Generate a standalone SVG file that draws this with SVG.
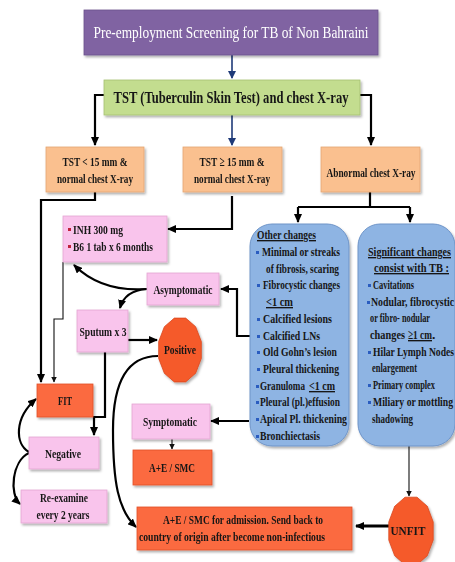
<svg xmlns="http://www.w3.org/2000/svg" width="455" height="562" viewBox="0 0 455 562">
  <style>
    text { font-family: "Liberation Serif", "Times New Roman", serif; fill: #161616; }
    .lbl { font-size: 13.5px; font-weight: bold; text-anchor: middle; }
    .lst { font-size: 13.5px; font-weight: bold; }
    .u { text-decoration: underline; }
    .pink { fill: #f9c4ec; stroke: #e3a6d2; stroke-width: 0.8; }
    .peach { fill: #fac08f; stroke: #e3a673; stroke-width: 0.8; }
    .red { fill: #fb6a40; stroke: #e0502a; stroke-width: 0.8; }
    .blue { fill: #8eb4e3; stroke: #6e94c8; stroke-width: 1; }
    .w { stroke: #000; stroke-width: 2.2; fill: none; }
    .thin { stroke: #111; stroke-width: 1.1; fill: none; }
    .navy { stroke: #1f3a78; stroke-width: 1.6; fill: none; }
    .bb { fill: #2a5cc0; }
    .br { fill: #c0243a; }
  </style>
  <defs>
    <filter id="sh" x="-10%" y="-10%" width="130%" height="130%">
      <feDropShadow dx="1.5" dy="2" stdDeviation="1.2" flood-color="#000" flood-opacity="0.3"/>
    </filter>
    <marker id="ah" markerWidth="9" markerHeight="8" refX="8" refY="4" orient="auto" markerUnits="userSpaceOnUse">
      <path d="M0,0 L9,4 L0,8 z" fill="#000"/>
    </marker>
    <marker id="ahs" markerWidth="6" markerHeight="6" refX="5.5" refY="3" orient="auto" markerUnits="userSpaceOnUse">
      <path d="M0,0 L6,3 L0,6 z" fill="#111"/>
    </marker>
    <marker id="ahn" markerWidth="8" markerHeight="8" refX="7" refY="4" orient="auto" markerUnits="userSpaceOnUse">
      <path d="M0,0 L8,4 L0,8 z" fill="#1f3a78"/>
    </marker>
  </defs>

  <!-- connectors -->
  <g id="connectors">
    <path class="navy" d="M232,55 V78" marker-end="url(#ahn)"/>
    <path class="navy" d="M232,115 V145" marker-end="url(#ahn)"/>
    <path class="w" d="M104,95 H95 V145" marker-end="url(#ah)"/>
    <path class="w" d="M360,95 H371 V145" marker-end="url(#ah)"/>
    <path class="w" d="M370,192 V207"/>
    <path class="w" d="M298,207 H410"/>
    <path class="w" d="M298,207 V222" marker-end="url(#ah)"/>
    <path class="w" d="M410,207 V222" marker-end="url(#ah)"/>
    <path class="w" d="M232,196 V229 H168" marker-end="url(#ah)"/>
    <path class="w" d="M95,192 V200 H41 V382" marker-end="url(#ah)"/>
    <path class="thin" d="M63,262 V319 H54 V382" marker-end="url(#ahs)"/>
    <path class="w" d="M250,336 H237 V289 H221" marker-end="url(#ah)"/>
    <path class="w" d="M147,289 C120,291 95,286 74,265" marker-end="url(#ah)"/>
    <path class="w" d="M147,289 C131,290 123,297 120,308" marker-end="url(#ah)"/>
    <path class="w" d="M128,340 H157" marker-end="url(#ah)"/>
    <path class="w" d="M105,352 V417 H94 V435" marker-end="url(#ah)"/>
    <path class="w" d="M158,356 C128,356 113,380 113,430 C113,482 118,510 136,527" marker-end="url(#ah)"/>
    <path class="w" d="M29,452 C15,444 14,418 36,399" marker-end="url(#ah)"/>
    <path class="w" d="M29,453 C12,461 9,494 20,504" marker-end="url(#ah)"/>
    <path class="w" d="M249,421 H211" marker-end="url(#ah)"/>
    <path class="thin" d="M172,439 V449" marker-end="url(#ahs)"/>
    <path class="thin" d="M409,446 V496" marker-end="url(#ahs)"/>
    <path stroke="#000" stroke-width="3.2" fill="none" d="M390,526 H356" marker-end="url(#ah)"/>
  </g>

  <g id="title" filter="url(#sh)">
    <rect x="84" y="10" width="294" height="45" fill="#8064a2" stroke="#6a4f8c" stroke-width="0.8"/>
    <text x="231" y="38" font-size="17" style="fill:#fff" text-anchor="middle" textLength="275" lengthAdjust="spacingAndGlyphs">Pre-employment Screening for TB of Non Bahraini</text>
  </g>

  <g id="tst" filter="url(#sh)">
    <rect x="104" y="80" width="256" height="35" fill="#c3dd8f" stroke="#a5c072" stroke-width="0.8"/>
    <text x="231" y="103" font-size="16.5" font-weight="bold" text-anchor="middle" textLength="235" lengthAdjust="spacingAndGlyphs">TST (Tuberculin Skin Test) and chest X-ray</text>
  </g>

  <g id="tst-low" filter="url(#sh)">
    <rect class="peach" x="46" y="147" width="98" height="45"/>
    <text class="lbl" x="95" y="166" textLength="65" lengthAdjust="spacingAndGlyphs">TST &lt; 15 mm &amp;</text>
    <text class="lbl" x="95" y="183" textLength="76" lengthAdjust="spacingAndGlyphs">normal chest X-ray</text>
  </g>

  <g id="tst-high" filter="url(#sh)">
    <rect class="peach" x="183" y="147" width="99" height="45"/>
    <text class="lbl" x="232" y="166" textLength="65" lengthAdjust="spacingAndGlyphs">TST ≥ 15 mm &amp;</text>
    <text class="lbl" x="232" y="183" textLength="76" lengthAdjust="spacingAndGlyphs">normal chest X-ray</text>
  </g>

  <g id="abnormal" filter="url(#sh)">
    <rect class="peach" x="321" y="147" width="99" height="45"/>
    <text class="lbl" x="371" y="177" textLength="89" lengthAdjust="spacingAndGlyphs">Abnormal chest X-ray</text>
  </g>

  <g id="other-changes" filter="url(#sh)">
    <rect class="blue" x="250" y="224" width="99" height="222" rx="22"/>
  </g>
  <g id="other-changes-text">
    <text class="lst u" x="257" y="239" textLength="59" lengthAdjust="spacingAndGlyphs">Other changes</text>
    <rect class="bb" x="256" y="251" width="3" height="3"/>
    <text class="lst" x="262" y="256" textLength="78" lengthAdjust="spacingAndGlyphs">Minimal or streaks</text>
    <text class="lst" x="266" y="273" textLength="73" lengthAdjust="spacingAndGlyphs">of fibrosis, scaring</text>
    <rect class="bb" x="257" y="284" width="3" height="3"/>
    <text class="lst" x="263" y="289" textLength="77" lengthAdjust="spacingAndGlyphs">Fibrocystic changes</text>
    <text class="lst u" x="266" y="306" textLength="27" lengthAdjust="spacingAndGlyphs">&lt;1 cm</text>
    <rect class="bb" x="257" y="318" width="3" height="3"/>
    <text class="lst" x="263" y="323" textLength="69" lengthAdjust="spacingAndGlyphs">Calcified lesions</text>
    <rect class="bb" x="257" y="335" width="3" height="3"/>
    <text class="lst" x="263" y="340" textLength="57" lengthAdjust="spacingAndGlyphs">Calcified LNs</text>
    <rect class="bb" x="257" y="351" width="3" height="3"/>
    <text class="lst" x="263" y="356" textLength="74" lengthAdjust="spacingAndGlyphs">Old Gohn’s lesion</text>
    <rect class="bb" x="257" y="368" width="3" height="3"/>
    <text class="lst" x="263" y="373" textLength="76" lengthAdjust="spacingAndGlyphs">Pleural thickening</text>
    <rect class="bb" x="256" y="385" width="3" height="3"/>
    <text class="lst" x="260" y="390" textLength="45" lengthAdjust="spacingAndGlyphs">Granuloma</text>
    <text class="lst u" x="309" y="390" textLength="26" lengthAdjust="spacingAndGlyphs">&lt;1 cm</text>
    <rect class="bb" x="256" y="401" width="3" height="3"/>
    <text class="lst" x="260" y="406" textLength="80" lengthAdjust="spacingAndGlyphs">Pleural (pl.)effusion</text>
    <rect class="bb" x="256" y="418" width="3" height="3"/>
    <text class="lst" x="260" y="423" textLength="87" lengthAdjust="spacingAndGlyphs">Apical Pl. thickening</text>
    <rect class="bb" x="256" y="435" width="3" height="3"/>
    <text class="lst" x="260" y="440" textLength="60" lengthAdjust="spacingAndGlyphs">Bronchiectasis</text>
  </g>

  <g id="significant-changes" filter="url(#sh)">
    <rect class="blue" x="358" y="224" width="97" height="222" rx="22"/>
  </g>
  <g id="significant-changes-text">
    <text class="lst u" x="368" y="256" textLength="83" lengthAdjust="spacingAndGlyphs">Significant changes</text>
    <text class="lst u" x="374" y="272" textLength="75" lengthAdjust="spacingAndGlyphs">consist with TB :</text>
    <rect class="bb" x="368" y="284" width="3" height="3"/>
    <text class="lst" x="373" y="289" textLength="41" lengthAdjust="spacingAndGlyphs">Cavitations</text>
    <rect class="bb" x="367" y="301" width="3" height="3"/>
    <text class="lst" x="371" y="306" textLength="83" lengthAdjust="spacingAndGlyphs">Nodular, fibrocystic</text>
    <text class="lst" x="370" y="322" textLength="60" lengthAdjust="spacingAndGlyphs">or  fibro- nodular</text>
    <text class="lst" x="370" y="339" textLength="35" lengthAdjust="spacingAndGlyphs">changes</text>
    <text class="lst" x="408" y="339"><tspan class="u" textLength="24" lengthAdjust="spacingAndGlyphs">≥1 cm</tspan>.</text>
    <rect class="bb" x="368" y="351" width="3" height="3"/>
    <text class="lst" x="373" y="356" textLength="81" lengthAdjust="spacingAndGlyphs">Hilar Lymph Nodes</text>
    <text class="lst" x="372" y="372" textLength="45" lengthAdjust="spacingAndGlyphs">enlargement</text>
    <rect class="bb" x="368" y="384" width="3" height="3"/>
    <text class="lst" x="373" y="389" textLength="62" lengthAdjust="spacingAndGlyphs">Primary complex</text>
    <rect class="bb" x="368" y="401" width="3" height="3"/>
    <text class="lst" x="373" y="406" textLength="80" lengthAdjust="spacingAndGlyphs">Miliary or mottling</text>
    <text class="lst" x="372" y="423" textLength="41" lengthAdjust="spacingAndGlyphs">shadowing</text>
  </g>

  <g id="inh" filter="url(#sh)">
    <rect class="pink" x="63" y="216" width="104" height="46"/>
    <rect class="br" x="68" y="228" width="3" height="3"/>
    <text class="lst" x="73" y="234" textLength="50" lengthAdjust="spacingAndGlyphs">INH 300 mg</text>
    <rect class="br" x="68" y="245" width="3" height="3"/>
    <text class="lst" x="73" y="251" textLength="80" lengthAdjust="spacingAndGlyphs">B6 1 tab x 6 months</text>
  </g>

  <g id="asymptomatic" filter="url(#sh)">
    <rect class="pink" x="147" y="273" width="72" height="32"/>
    <text class="lbl" x="183" y="294" textLength="59" lengthAdjust="spacingAndGlyphs">Asymptomatic</text>
  </g>

  <g id="sputum" filter="url(#sh)">
    <rect class="pink" x="77" y="310" width="51" height="42"/>
    <text class="lbl" x="103" y="336" textLength="47" lengthAdjust="spacingAndGlyphs">Sputum x 3</text>
  </g>

  <g id="positive" filter="url(#sh)">
    <polygon fill="#f55a2c" stroke="#d9461c" stroke-width="0.8" points="201.3,358.5 195.6,373.3 185.7,381.9 174.3,381.9 164.4,373.3 158.7,358.5 158.7,341.5 164.4,326.7 174.3,318.1 185.7,318.1 195.6,326.7 201.3,341.5"/>
    <text class="lbl" x="180" y="354" textLength="32" lengthAdjust="spacingAndGlyphs">Positive</text>
  </g>

  <g id="fit" filter="url(#sh)">
    <rect class="red" x="37" y="384" width="56" height="33"/>
    <text class="lbl" x="65" y="405" textLength="14" lengthAdjust="spacingAndGlyphs">FIT</text>
  </g>

  <g id="negative" filter="url(#sh)">
    <rect class="pink" x="29" y="437" width="70" height="32"/>
    <text class="lbl" x="63" y="458" textLength="36" lengthAdjust="spacingAndGlyphs">Negative</text>
  </g>

  <g id="reexamine" filter="url(#sh)">
    <rect class="pink" x="21" y="490" width="86" height="33"/>
    <text class="lbl" x="64" y="502" textLength="48" lengthAdjust="spacingAndGlyphs">Re-examine</text>
    <text class="lbl" x="63" y="519" textLength="53" lengthAdjust="spacingAndGlyphs">every 2 years</text>
  </g>

  <g id="symptomatic" filter="url(#sh)">
    <rect class="pink" x="132" y="404" width="78" height="35"/>
    <text class="lbl" x="170" y="426" textLength="54" lengthAdjust="spacingAndGlyphs">Symptomatic</text>
  </g>

  <g id="ae-smc" filter="url(#sh)">
    <rect class="red" x="133" y="450" width="79" height="35"/>
    <text class="lbl" x="172" y="472" textLength="46" lengthAdjust="spacingAndGlyphs">A+E / SMC</text>
  </g>

  <g id="admission" filter="url(#sh)">
    <rect class="red" x="137" y="507" width="215" height="43"/>
    <text class="lst" x="163" y="524" textLength="160" lengthAdjust="spacingAndGlyphs">A+E / SMC for admission. Send back to</text>
    <text class="lst" x="139" y="541" textLength="186" lengthAdjust="spacingAndGlyphs">country of origin after become non-infectious</text>
  </g>

  <g id="unfit" filter="url(#sh)">
    <polygon fill="#f55a2c" stroke="#d9461c" stroke-width="0.8" points="433.2,540.1 427.3,555.7 417,564.8 405,564.8 394.7,555.7 388.8,540.1 388.8,521.9 394.7,506.3 405,497.2 417,497.2 427.3,506.3 433.2,521.9"/>
    <text class="lbl" x="408" y="535" textLength="35" lengthAdjust="spacingAndGlyphs">UNFIT</text>
  </g>
</svg>
